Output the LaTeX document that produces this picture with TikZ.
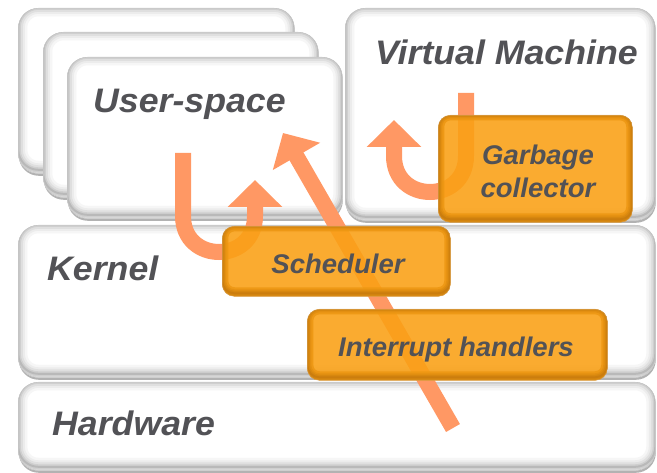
\documentclass[tikz,border=0pt]{standalone}
\usepackage{fontspec}
\setmainfont{Liberation Sans}
\usetikzlibrary{arrows.meta,shadows}
\definecolor{boxorange}{RGB}{250,160,20}
\definecolor{edgeorange}{RGB}{175,105,10}
\definecolor{arrowc}{RGB}{255,152,100}
\definecolor{txt}{RGB}{82,82,86}
\tikzset{
  wbox/.style={rounded corners=20pt, fill=white, draw=gray!45, line width=0.6pt, anchor=north west, inner sep=0pt,
    drop shadow={shadow xshift=0.5pt, shadow yshift=-2.5pt, opacity=0.3, fill=black},
    path picture={
      \foreach \w/\c in {18/7,13/15,9/25,5/38,2/55}{
        \draw[rounded corners=20pt, line width=\w pt, draw=gray!\c]
          ([yshift=3.5pt]path picture bounding box.south west) rectangle ([yshift=1pt]path picture bounding box.north east);}
    }},
  obox/.style={rounded corners=12pt, fill=boxorange, fill opacity=0.88, draw=edgeorange!60, draw opacity=0.6, line width=0.6pt, anchor=north west, inner sep=0pt,
    path picture={
      \foreach \w/\c in {12/18,8/32,5/48,2/65}{
        \draw[rounded corners=12pt, line width=\w pt, draw=edgeorange!\c!boxorange, draw opacity=0.85]
          ([yshift=3pt]path picture bounding box.south west) rectangle ([yshift=1pt]path picture bounding box.north east);}
    }},
  bigtxt/.style={font=\fontsize{34}{34}\selectfont\bfseries\itshape, text=txt, inner sep=0pt, anchor=base west, xscale=1.05, transform shape},
  smalltxt/.style={font=\fontsize{27}{27}\selectfont\bfseries\itshape, text=txt, inner sep=0pt, anchor=base, xscale=1.02, transform shape},
  flow/.style={draw=arrowc, line width=16pt, -{Triangle[width=53pt,length=27pt]}},
}
\begin{document}
\begin{tikzpicture}[x=1pt,y=-1pt]
\useasboundingbox (0,0) rectangle (657,473);
% white layers
\node[wbox, minimum width=276pt, minimum height=165pt] (us1) at (18,8) {};
\node[wbox, minimum width=275pt, minimum height=165pt] (us2) at (43,32) {};
\node[wbox, minimum width=275pt, minimum height=161pt] (us3) at (67,57) {};
\node[wbox, minimum width=310pt, minimum height=212pt] (vm) at (345,8) {};
\node[wbox, minimum width=637pt, minimum height=152pt] (kern) at (18,225) {};
\node[wbox, minimum width=637pt, minimum height=88pt] (hw) at (18,382) {};
% flows
\coordinate (a1s) at (183,153);
\coordinate (a1t) at (255,180);
\coordinate (a2s) at (453,428);
\coordinate (a2t) at (283,133);
\coordinate (a3s) at (466,93);
\coordinate (a3t) at (394,120);
\draw[flow] (a1s) -- (183,216) .. controls (183,264) and (255,264) .. (255,216) -- (a1t);
\draw[flow] (a3s) -- (466,156) .. controls (466,204) and (394,204) .. (394,156) -- (a3t);
\draw[flow] (a2s) -- (a2t);
% orange components
\node[obox, minimum width=194pt, minimum height=107pt] (gc) at (438,115) {};
\node[obox, minimum width=228pt, minimum height=70pt] (sch) at (222,226) {};
\node[obox, minimum width=300pt, minimum height=71pt] (irq) at (307,309) {};
% labels
\node[bigtxt] (tus) at (93,113) {User-space};
\node[bigtxt] (tvm) at (375,65) {Virtual Machine};
\node[bigtxt] (tk) at (47,281) {Kernel};
\node[bigtxt] (thw) at (52,436) {Hardware};
\node[smalltxt] (tsch) at (338,274) {Scheduler};
\node[smalltxt] (tirq) at (456,357) {Interrupt handlers};
\node[smalltxt] (tgc1) at (538,165) {Garbage};
\node[smalltxt] (tgc2) at (538,198) {collector};
\end{tikzpicture}
\end{document}
